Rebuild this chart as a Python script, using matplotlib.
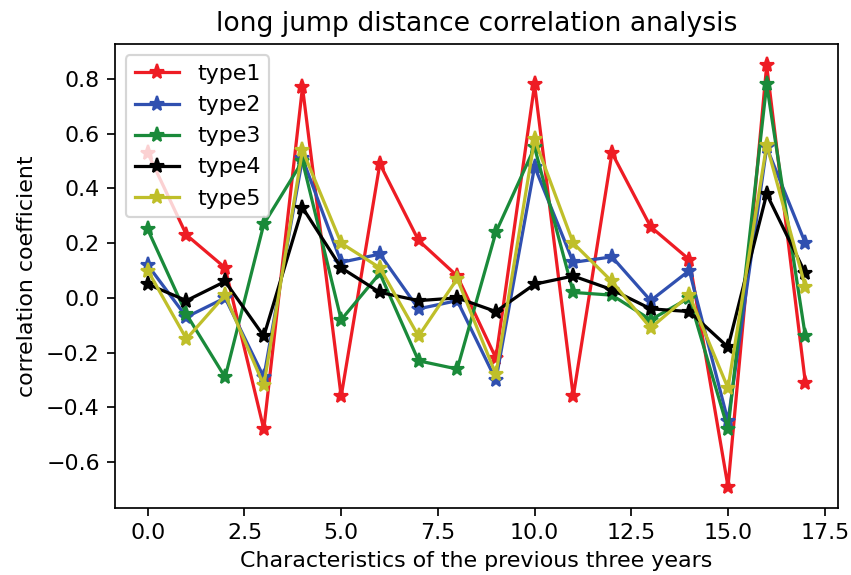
import matplotlib
matplotlib.use("Agg")
import matplotlib.pyplot as plt

x = list(range(18))
type1 = [0.53, 0.23, 0.11, -0.48, 0.77, -0.36, 0.49, 0.21, 0.08, -0.22, 0.78, -0.36, 0.53, 0.26, 0.14, -0.69, 0.85, -0.31]
type2 = [0.12, -0.07, 0.00, -0.29, 0.51, 0.13, 0.16, -0.04, -0.01, -0.30, 0.48, 0.13, 0.15, -0.01, 0.10, -0.45, 0.55, 0.20]
type3 = [0.25, -0.06, -0.29, 0.27, 0.50, -0.08, 0.09, -0.23, -0.26, 0.24, 0.55, 0.02, 0.01, -0.08, 0.00, -0.48, 0.78, -0.14]
type4 = [0.05, -0.01, 0.06, -0.14, 0.33, 0.11, 0.02, -0.01, 0.00, -0.05, 0.05, 0.08, 0.03, -0.04, -0.05, -0.18, 0.38, 0.09]
type5 = [0.10, -0.15, 0.01, -0.32, 0.54, 0.20, 0.11, -0.14, 0.07, -0.28, 0.58, 0.20, 0.06, -0.11, 0.01, -0.33, 0.56, 0.04]

series = [type1, type2, type3, type4, type5]
names = ["type1", "type2", "type3", "type4", "type5"]
colors = ["#ee1c24", "#3050b0", "#1a8a3a", "black", "#bfbf2a"]

plt.rcParams['font.size'] = 10.3
plt.figure(figsize=(851 / 155, 575 / 155), dpi=155)
for vals, name, c in zip(series, names, colors):
    plt.plot(x, vals, marker="*", markersize=7, color=c, label=name)

plt.title("long jump distance correlation analysis", fontsize=12.4)
plt.xlabel("Characteristics of the previous three years")
plt.ylabel("correlation coefficient")
plt.legend(loc="upper left")
plt.subplots_adjust(left=0.135, right=0.985, top=0.923, bottom=0.117)
plt.savefig("out.png", dpi=155)
